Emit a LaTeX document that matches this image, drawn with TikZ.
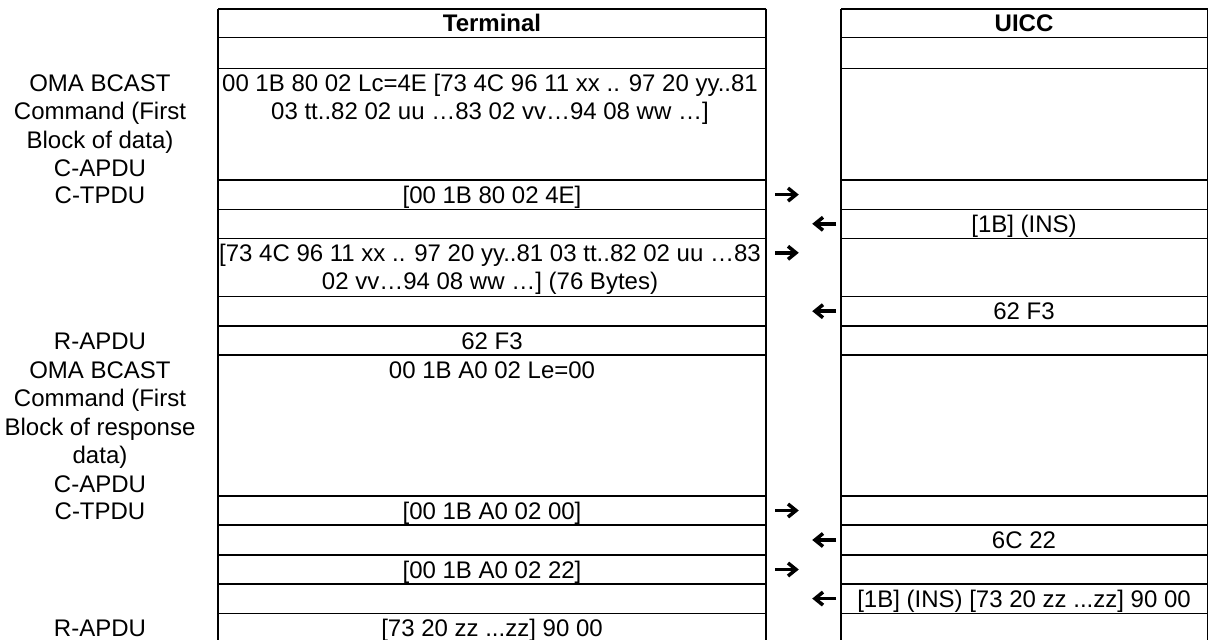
\documentclass[tikz,border=0pt]{standalone}
\usepackage{fontspec}
\setmainfont{Liberation Sans}
\begin{document}
\begin{tikzpicture}[x=0.5pt,y=-0.5pt,line width=0.75pt,
  txt/.style={inner sep=0pt,anchor=base,font=\fontsize{12}{14}\selectfont},
  hdr/.style={txt,font=\fontsize{12}{14}\selectfont\bfseries},
  arrsh/.style={line width=1.75pt},
  arrhd/.style={line width=1.75pt,line join=miter,miter limit=4}]
\useasboundingbox (0,0) rectangle (1209,640);
\clip (0,0) rectangle (1209,640);
% table grids
\foreach \y in {9,37.3,68.3,180,209.3,238.3,296.7,326,355,496,525,555,584,613.3}{
  \draw (218,\y) -- (766,\y);
  \draw (841,\y) -- (1207.5,\y);
}
\draw (218,8.6) -- (218,660);
\draw (766,8.6) -- (766,660);
\draw (841,8.6) -- (841,660);
\draw (1207.5,8.6) -- (1207.5,660);
% headers
\node[hdr] (hT) at (492,31.8) {Terminal};
\node[hdr] (hU) at (1024,31.8) {UICC};
% row 2
\node[txt] (l2a) at (100,91.4) {OMA BCAST};
\node[txt] (l2b) at (100,119.9) {Command (First};
\node[txt] (l2c) at (100,148.4) {Block of data)};
\node[txt] (l2d) at (100,176.9) {C-APDU};
\node[txt] (t2a) at (490,91.4) {00 1B 80 02 Lc=4E [73 4C 96 11 xx .. 97 20 yy..81};
\node[txt] (t2b) at (490,119.9) {03 tt..82 02 uu …83 02 vv…94 08 ww …]};
% row 3
\node[txt] (l3) at (100,203.1) {C-TPDU};
\node[txt] (t3) at (492,203.1) {[00 1B 80 02 4E]};
\coordinate (r3a) at (775,194.6); \coordinate (r3b) at (796,194.6);
\draw[arrsh] (r3a) -- (r3b);
\draw[arrhd] (r3b) ++(-8,-6.5) -- (r3b) -- ++(-8,6.5);
% row 4
\node[txt] (u4) at (1024,232.4) {[1B] (INS)};
\coordinate (a4a) at (836,223.8); \coordinate (a4b) at (815,223.8);
\draw[arrsh] (a4a) -- (a4b);
\draw[arrhd] (a4b) ++(8,-6.5) -- (a4b) -- ++(8,6.5);
% row 5
\node[txt] (t5a) at (490,261.4) {[73 4C 96 11 xx .. 97 20 yy..81 03 tt..82 02 uu …83};
\node[txt] (t5b) at (490,289.9) {02 vv…94 08 ww …] (76 Bytes)};
\coordinate (r5a) at (775,252.8); \coordinate (r5b) at (796,252.8);
\draw[arrsh] (r5a) -- (r5b);
\draw[arrhd] (r5b) ++(-8,-6.5) -- (r5b) -- ++(-8,6.5);
% row 6
\node[txt] (u6) at (1024,319.8) {62 F3};
\coordinate (a6a) at (836,311.2); \coordinate (a6b) at (815,311.2);
\draw[arrsh] (a6a) -- (a6b);
\draw[arrhd] (a6b) ++(8,-6.5) -- (a6b) -- ++(8,6.5);
% row 7
\node[txt] (l7) at (100,349.1) {R-APDU};
\node[txt] (t7) at (492,349.1) {62 F3};
% row 8
\node[txt] (l8a) at (100,378.1) {OMA BCAST};
\node[txt] (l8b) at (100,406.6) {Command (First};
\node[txt] (l8c) at (100,435.1) {Block of response};
\node[txt] (l8d) at (100,463.6) {data)};
\node[txt] (l8e) at (100,492.1) {C-APDU};
\node[txt] (t8) at (492,378.1) {00 1B A0 02 Le=00};
% row 9
\node[txt] (l9) at (100,519.1) {C-TPDU};
\node[txt] (t9) at (492,519.1) {[00 1B A0 02 00]};
\coordinate (r9a) at (775,510.5); \coordinate (r9b) at (796,510.5);
\draw[arrsh] (r9a) -- (r9b);
\draw[arrhd] (r9b) ++(-8,-6.5) -- (r9b) -- ++(-8,6.5);
% row 10
\node[txt] (u10) at (1024,548.1) {6C 22};
\coordinate (a10a) at (836,540); \coordinate (a10b) at (815,540);
\draw[arrsh] (a10a) -- (a10b);
\draw[arrhd] (a10b) ++(8,-6.5) -- (a10b) -- ++(8,6.5);
% row 11
\node[txt] (t11) at (492,578.1) {[00 1B A0 02 22]};
\coordinate (r11a) at (775,569.5); \coordinate (r11b) at (796,569.5);
\draw[arrsh] (r11a) -- (r11b);
\draw[arrhd] (r11b) ++(-8,-6.5) -- (r11b) -- ++(-8,6.5);
% row 12
\node[txt] (u12) at (1024,607.1) {[1B] (INS) [73 20 zz ...zz] 90 00};
\coordinate (a12a) at (836,598.6); \coordinate (a12b) at (815,598.6);
\draw[arrsh] (a12a) -- (a12b);
\draw[arrhd] (a12b) ++(8,-6.5) -- (a12b) -- ++(8,6.5);
% row 13
\node[txt] (l13) at (100,636.4) {R-APDU};
\node[txt] (t13) at (492,636.4) {[73 20 zz ...zz] 90 00};
\end{tikzpicture}
\end{document}
